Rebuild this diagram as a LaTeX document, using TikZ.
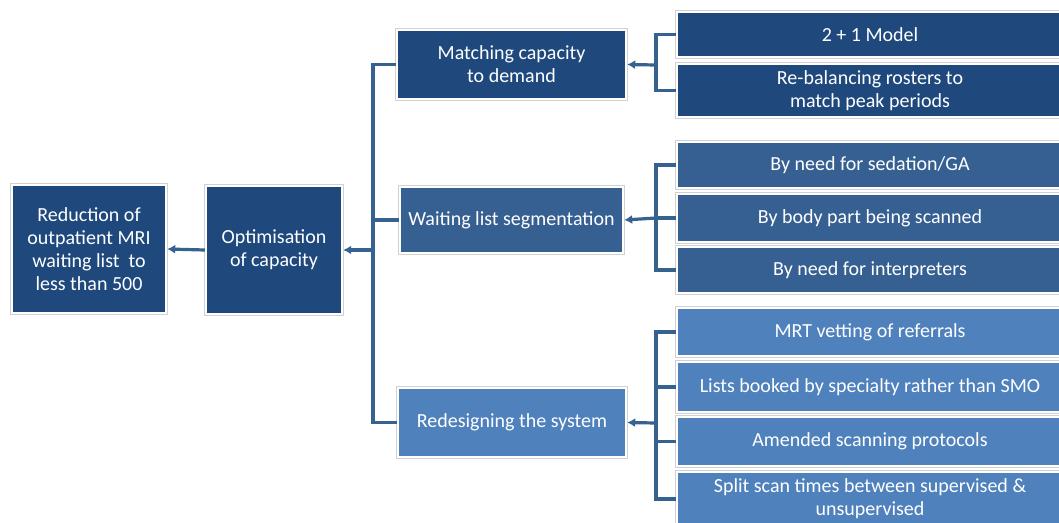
\documentclass[tikz,border=0pt]{standalone}
\usepackage{fontspec}
\setmainfont{Carlito}
\usepackage{xcolor}
\usetikzlibrary{arrows.meta}

\definecolor{navy}{HTML}{1F497D}
\definecolor{steel}{HTML}{376092}
\definecolor{sky}{HTML}{4F81BD}
\definecolor{wire}{HTML}{35628F}

\tikzset{
  card/.style={rectangle, inner sep=2pt, align=center, text=white,
    font=\fontsize{20}{23}\selectfont,
    preaction={draw=black!18, line width=4pt},
    draw=white, line width=2.4pt},
  link/.style={draw=wire, line width=3.2pt},
  feed/.style={link, -{Latex[length=8pt,width=9pt]}},
}

\begin{document}
\begin{tikzpicture}[x=1pt,y=-1pt]
\clip (0,0) rectangle (1059,522);
\fill[white] (0,0) rectangle (1059,522);

% goal and main lever
\node[card, fill=navy, minimum width=154pt, minimum height=128pt] (goal) at (89,249)
  {Reduction of\\outpatient MRI\\waiting list\ \ to\\less than 500};
\node[card, fill=navy, minimum width=136pt, minimum height=128pt] (optim) at (274,250)
  {Optimisation\\of capacity};

% strategies
\node[card, fill=navy, minimum width=229pt, minimum height=69pt] (match) at (511.5,64.5)
  {Matching capacity\\to demand};
\node[card, fill=steel, minimum width=223pt, minimum height=66pt] (segment) at (511.5,220)
  {Waiting list segmentation};
\node[card, fill=sky, minimum width=228pt, minimum height=69pt] (redesign) at (512,422.5)
  {Redesigning the system};

% actions
\node[card, fill=navy, minimum width=386pt, minimum height=45pt] (m1) at (870,34.5) {2 + 1 Model};
\node[card, fill=navy, minimum width=386pt, minimum height=53pt] (m2) at (870,90.5)
  {Re-balancing rosters to\\match peak periods};

\node[card, fill=steel, minimum width=386pt, minimum height=46pt] (s1) at (870,165) {By need for sedation/GA};
\node[card, fill=steel, minimum width=386pt, minimum height=48pt] (s2) at (870,218) {By body part being scanned};
\node[card, fill=steel, minimum width=386pt, minimum height=46pt] (s3) at (870,270) {By need for interpreters};

\node[card, fill=sky, minimum width=386pt, minimum height=48pt] (r1) at (870,332) {MRT vetting of referrals};
\node[card, fill=sky, minimum width=386pt, minimum height=50pt] (r2) at (870,387) {Lists booked by specialty rather than SMO};
\node[card, fill=sky, minimum width=386pt, minimum height=49pt] (r3) at (870,441.5) {Amended scanning protocols};
\node[card, fill=sky, minimum width=386pt, minimum height=54pt] (r4) at (870,499)
  {Split scan times between supervised \&\\unsupervised};

% junctions
\coordinate (spine) at (373,250);
\coordinate (mj) at (656,65);
\coordinate (sj) at (656,218);
\coordinate (rj) at (656,423);

% connectors
\draw[feed] (optim.west) -- (goal.east);
\draw[feed] (spine) -- (optim.east);
\draw[link] (match.west) -| (spine) |- (redesign.west);
\draw[link] (segment.west) -- (segment.west -| spine);

\draw[link] (m1.west) -| (mj) |- (m2.west);
\draw[feed] (mj) -- (match.east);

\draw[link] (s1.west) -| (sj) |- (s3.west);
\draw[link] (s2.west) -- (sj);
\draw[feed] (sj) -- (segment.east);

\draw[link] (r1.west) -| (rj) |- (r4.west);
\draw[link] (r2.west) -- (r2.west -| rj);
\draw[link] (r3.west) -- (r3.west -| rj);
\draw[feed] (rj) -- (redesign.east);

\end{tikzpicture}
\end{document}
